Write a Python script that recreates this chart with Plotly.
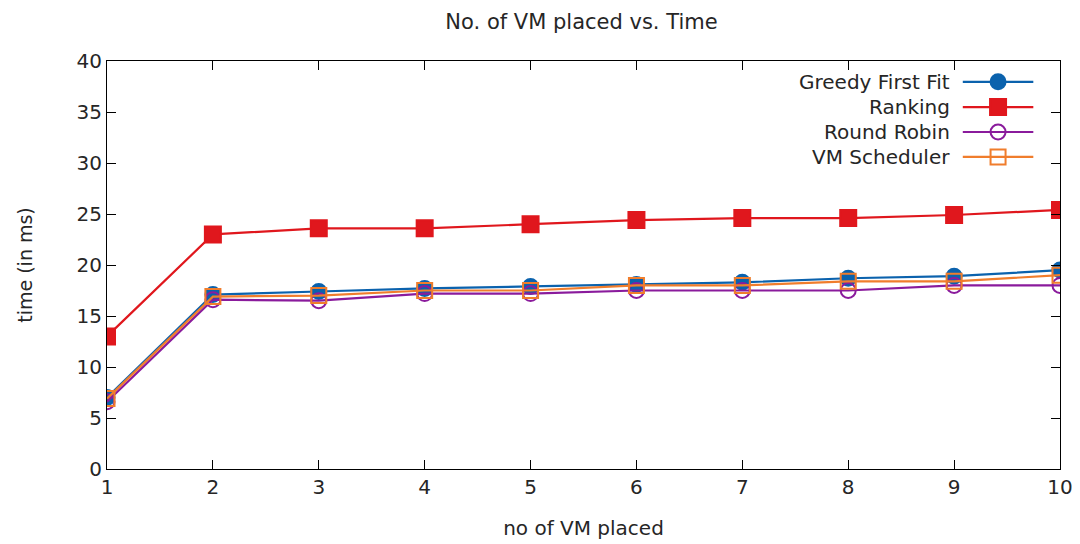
import plotly.graph_objects as go

x_vals = [1, 2, 3, 4, 5, 6, 7, 8, 9, 10]
greedy = [7.0, 17.1, 17.4, 17.7, 17.9, 18.1, 18.3, 18.7, 18.9, 19.5]
ranking = [13.0, 23.0, 23.6, 23.6, 24.0, 24.4, 24.6, 24.6, 24.9, 25.4]
round_robin = [6.6, 16.6, 16.5, 17.2, 17.2, 17.5, 17.5, 17.5, 18.0, 18.0]
vm_sched = [6.9, 16.9, 17.0, 17.5, 17.5, 18.0, 18.0, 18.4, 18.4, 19.0]

names = ["Greedy First Fit", "Ranking", "Round Robin", "VM Scheduler"]
series = [greedy, ranking, round_robin, vm_sched]
colors = ["#0b62ad", "#e0171d", "#8a1b9c", "#f07d2c"]
symbols = ["circle", "square", "circle-open", "square-open"]
sizes = [15, 16, 15, 15]

FONT = "DejaVu Sans"
TXT = "#262626"

fig = go.Figure()
for name, ys, c, s, sz in zip(names, series, colors, symbols, sizes):
    fig.add_trace(go.Scatter(
        x=x_vals, y=ys, mode="lines+markers", name=name,
        line=dict(color=c, width=2.2),
        marker=dict(symbol=s, size=sz, color=c, line=dict(color=c, width=2)),
        showlegend=False,
    ))

# Manual gnuplot-style legend (text left, sample right)
leg_y = [0.949, 0.887, 0.826, 0.765]
for name, c, s, sz, yy in zip(names, colors, symbols, sizes, leg_y):
    fig.add_trace(go.Scatter(
        x=[0.898, 0.935, 0.972], y=[yy, yy, yy], xaxis="x2", yaxis="y2",
        mode="lines", line=dict(color=c, width=2.2), showlegend=False,
        hoverinfo="skip",
    ))
    fig.add_trace(go.Scatter(
        x=[0.935], y=[yy], xaxis="x2", yaxis="y2",
        mode="markers", marker=dict(symbol=s, size=sz, color=c, line=dict(color=c, width=2)),
        showlegend=False, hoverinfo="skip",
    ))
    fig.add_annotation(
        x=0.887, y=yy, xref="x2", yref="y2", text=name, showarrow=False,
        xanchor="right", yanchor="middle",
        font=dict(family=FONT, size=20, color=TXT),
    )

fig.update_layout(
    width=1080, height=544,
    margin=dict(l=99, r=28, t=53, b=83),
    paper_bgcolor="white", plot_bgcolor="white",
    font=dict(family=FONT, size=19, color=TXT),
    title=dict(text="No. of VM placed vs. Time", x=0.531, xanchor="center",
               y=0.974, yanchor="middle", font=dict(family=FONT, size=21, color=TXT)),
    xaxis=dict(
        range=[1, 10], tickvals=x_vals, ticks="inside", ticklen=9,
        showline=True, linecolor="black", linewidth=1, mirror="ticks",
        showgrid=False, zeroline=False, tickcolor="black",
        title=dict(text="no of VM placed", standoff=22, font=dict(size=20)),
        tickfont=dict(size=20),
    ),
    yaxis=dict(
        range=[0, 40], dtick=5, ticks="inside", ticklen=9,
        showline=True, linecolor="black", linewidth=1, mirror="ticks",
        showgrid=False, zeroline=False, tickcolor="black",
        title=dict(text="time (in ms)", standoff=38, font=dict(size=19)),
        tickfont=dict(size=20),
    ),
    xaxis2=dict(domain=[0, 1], range=[0, 1], overlaying="x", visible=False, fixedrange=True),
    yaxis2=dict(domain=[0, 1], range=[0, 1], overlaying="y", visible=False, fixedrange=True),
)

fig.write_html("out.html")
